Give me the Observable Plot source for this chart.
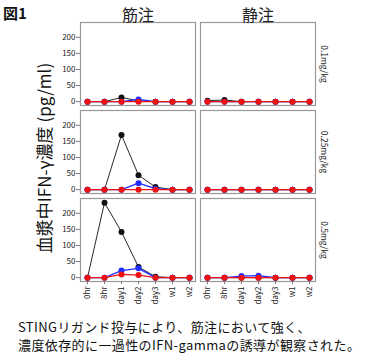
<!DOCTYPE html>
<html><head><meta charset="utf-8">
<script src="https://cdn.jsdelivr.net/npm/d3@7"></script>
<script src="https://cdn.jsdelivr.net/npm/@observablehq/plot@0.6"></script>
<style>
body{margin:0;background:#fff;font-family:"Noto Sans CJK JP",sans-serif;}
#cap{margin:4px 0 0 18px;font-size:13px;line-height:18px;letter-spacing:0.4px;color:#111;white-space:nowrap;}
</style></head>
<body><div id="chart"></div>
<div id="cap">STINGリガンド投与により、筋注において強く、<br>濃度依存的に一過性のIFN-gammaの誘導が観察された。</div>
<script>
const times = ["0hr","8hr","day1","day2","day3","w1","w2"];
const routes = ["筋注","静注"];
const doses = ["0.1mg/kg","0.25mg/kg","0.5mg/kg"];
const seriesNames = ["黒","青","赤"];
const seriesColors = ["#111111","#1f2fff","#ee1111"];
const yTicks = [0,50,100,150,200];

// 筋注 (intramuscular)
const im01Black = [0,0,13,2,0,0,0];
const im01Blue  = [0,0,0,7,0,0,0];
const im01Red   = [0,0,0,0,0,0,0];
const im025Black = [0,0,170,45,8,0,0];
const im025Blue  = [0,0,0,20,3,0,0];
const im025Red   = [0,0,0,0,0,0,0];
const im05Black = [0,233,142,33,3,0,0];
const im05Blue  = [0,0,22,29,0,0,0];
const im05Red   = [0,0,10,8,0,0,0];
// 静注 (intravenous)
const iv01Black = [3,5,0,0,0,0,0];
const iv01Blue  = [0,0,0,0,0,0,0];
const iv01Red   = [0,0,0,0,0,0,0];
const iv025Black = [0,0,0,0,0,0,0];
const iv025Blue  = [0,0,0,0,0,0,0];
const iv025Red   = [0,0,0,0,0,0,0];
const iv05Black = [0,0,0,0,0,0,0];
const iv05Blue  = [0,0,5,6,0,0,0];
const iv05Red   = [0,0,0,0,0,0,0];

const table = [
  ["筋注","0.1mg/kg",[im01Black,im01Blue,im01Red]],
  ["筋注","0.25mg/kg",[im025Black,im025Blue,im025Red]],
  ["筋注","0.5mg/kg",[im05Black,im05Blue,im05Red]],
  ["静注","0.1mg/kg",[iv01Black,iv01Blue,iv01Red]],
  ["静注","0.25mg/kg",[iv025Black,iv025Blue,iv025Red]],
  ["静注","0.5mg/kg",[iv05Black,iv05Blue,iv05Red]]
];
const data = [];
for (const [route, dose, arrs] of table) {
  arrs.forEach((vals, si) => {
    vals.forEach((v, ti) => data.push({route, dose, series: seriesNames[si], time: times[ti], value: v}));
  });
}
const bySeries = s => data.filter(d => d.series === s);
const font = "'Noto Sans CJK JP','Noto Sans',sans-serif";

const seriesMarks = [];
seriesNames.forEach((s, i) => {
  seriesMarks.push(Plot.line(bySeries(s), {x:"time", y:"value", fx:"route", fy:"dose",
    stroke: seriesColors[i], strokeWidth: i === 0 ? 0.9 : 1.3}));
  seriesMarks.push(Plot.dot(bySeries(s), {x:"time", y:"value", fx:"route", fy:"dose",
    fill: seriesColors[i], r: 3}));
});

const plot = Plot.plot({
  width: 367, height: 314,
  marginLeft: 80, marginRight: 52, marginTop: 22, marginBottom: 32,
  style: {fontFamily: font, fontSize: "8px", color: "#222", background: "#fff"},
  fx: {domain: routes, padding: 0.042, label: null},
  fy: {domain: doses, padding: 0.055, axis: null, label: null},
  x: {type: "point", domain: times, padding: 0.3},
  y: {domain: [-12, 246]},
  marks: [
    Plot.frame({stroke: "#999", strokeWidth: 1.2}),
    Plot.axisFx({anchor: "top", label: null, tickSize: 0, tickPadding: 2, fontSize: 16}),
    Plot.axisX({tickRotate: -90, tickSize: 3, tickPadding: 2, label: null, stroke: "#777", fontSize: 8}),
    Plot.axisY({ticks: yTicks, tickSize: 4, tickPadding: 1, label: null, stroke: "#777", fontSize: 8}),
    Plot.text(doses, {fx: () => "静注", fy: d => d, text: d => d, frameAnchor: "right",
      rotate: 90, dx: 8, textAnchor: "middle", lineAnchor: "middle", fontSize: 8.5}),
    ...seriesMarks
  ]
});
document.getElementById("chart").appendChild(plot);

const svg = d3.select(plot);
svg.append("text").attr("x", 15).attr("y", 19)
  .attr("font-size", 15).attr("font-weight", "bold").attr("font-family", font)
  .attr("fill", "#111").text("図1");
svg.append("text").attr("transform", "translate(51,158) rotate(-90)")
  .attr("text-anchor", "middle").attr("font-size", 17).attr("font-family", font)
  .attr("fill", "#111").text("血漿中IFN-γ濃度 (pg/ml)");
</script>
</body></html>
